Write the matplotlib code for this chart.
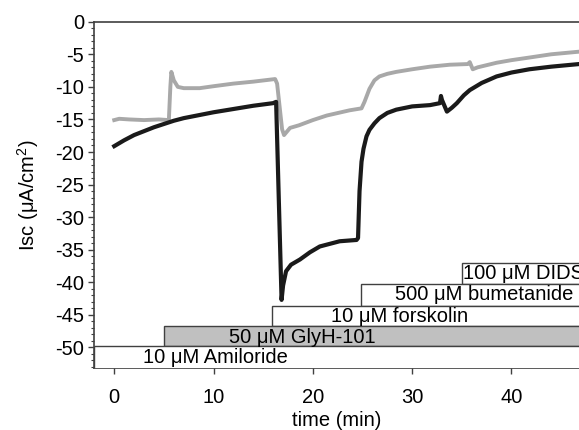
import numpy as np
import matplotlib.pyplot as plt
from matplotlib.patches import Rectangle

plt.rcParams['font.family'] = ['Liberation Sans', 'DejaVu Sans']
plt.rcParams['mathtext.default'] = 'regular'
plt.rcParams['axes.unicode_minus'] = False

# ---------------------------------------------------------------------------
# Data
# ---------------------------------------------------------------------------
t_black = [0, 1, 2, 3, 4, 5, 6, 7, 8, 10, 12, 14, 16, 16.3, 16.85, 17.0, 17.3,
           17.8, 18.7, 19.7, 20.7, 22.7, 24.4, 24.55, 24.7, 24.9, 25.1, 25.4,
           25.7, 26.2, 26.7, 27.5, 28.4, 30, 31.8, 32.8, 32.9, 33.0, 33.5, 34.0,
           34.5, 35.2, 35.8, 37, 38.5, 40, 41.8, 44, 46.8]
isc_black = [-19.1, -18.2, -17.4, -16.8, -16.2, -15.7, -15.2, -14.8, -14.5,
             -13.9, -13.4, -12.9, -12.5, -12.3, -42.7, -40.5, -38.3, -37.3,
             -36.5, -35.4, -34.5, -33.7, -33.5, -33.2, -26.0, -21.5, -19.5,
             -17.6, -16.6, -15.6, -14.8, -14.0, -13.5, -13.0, -12.8, -12.5,
             -11.4, -12.0, -13.8, -13.2, -12.5, -11.3, -10.5, -9.4, -8.4, -7.8,
             -7.3, -6.9, -6.5]

t_gray = [0, 0.5, 1.5, 3, 4.5, 5.5, 5.65, 5.75, 6.0, 6.4, 7, 8.6, 10, 12, 14,
          16.2, 16.4, 16.9, 17.1, 17.7, 18.6, 20, 21.4, 23.7, 24.9, 25.2, 25.7,
          26.2, 26.7, 27.5, 28.4, 30, 31.8, 33.8, 35.6, 35.8, 36.1, 36.6, 38.5,
          40, 41.8, 44, 46.8]
isc_gray = [-15.1, -14.9, -15.0, -15.1, -15.0, -15.1, -10.0, -7.7, -9.0, -10.0,
            -10.2, -10.2, -9.9, -9.5, -9.2, -8.8, -9.5, -16.5, -17.4, -16.3,
            -15.9, -15.1, -14.4, -13.6, -13.3, -12.3, -10.3, -9.0, -8.4, -8.0,
            -7.7, -7.3, -6.9, -6.6, -6.5, -6.2, -7.3, -7.0, -6.3, -5.9, -5.5,
            -5.0, -4.6]

# drug additions: label, start time, box bottom/top, text position, fill
drugs = ["10 \u03bcM Amiloride", "50 \u03bcM GlyH-101", "10 \u03bcM forskolin",
         "500 \u03bcM bumetanide", "100 \u03bcM DIDS"]
drug_start = [-2.0, 5.0, 15.9, 24.8, 35.0]
drug_bottom = [-54.0, -49.8, -46.7, -43.6, -40.3]
drug_top = [-49.8, -46.7, -43.6, -40.3, -37.1]
drug_text_x = [10.2, 18.9, 28.7, 37.3, 35.1]
drug_text_y = [-51.5, -48.5, -45.2, -41.9, -38.6]
drug_fill = ["white", "#c0c0c0", "white", "white", "white"]

# ---------------------------------------------------------------------------
# Plot
# ---------------------------------------------------------------------------
fig = plt.figure(figsize=(5.79, 4.30), dpi=100)
ax = fig.add_axes([0.163, 0.1435, 0.837, 0.806])

ax.plot(t_gray, isc_gray, color='#a8a8a8', lw=2.8, solid_joinstyle='round',
        zorder=3)
ax.plot(t_black, isc_black, color='#1a1a1a', lw=3.0, solid_joinstyle='round',
        zorder=4)

# drug boxes, drawn top-down so lower boxes overlap the ones above
n = len(drugs)
for i in range(n - 1, -1, -1):
    x0 = drug_start[i]
    rect = Rectangle((x0, drug_bottom[i]), 60 - x0, drug_top[i] - drug_bottom[i],
                     facecolor=drug_fill[i], edgecolor='#404040', lw=1.0,
                     zorder=5 + (n - i))
    ax.add_patch(rect)
    ha = 'left' if i == n - 1 else 'center'
    ax.text(drug_text_x[i], drug_text_y[i], drugs[i], ha=ha, va='center',
            fontsize=14.5, zorder=20)

ax.set_xlim(-2.0, 46.8)
ax.set_ylim(-53.2, 0)
ax.set_xticks([0, 10, 20, 30, 40])
ax.set_yticks(np.arange(-50, 1, 5))
ax.set_yticks(np.arange(-53, 0, 1), minor=True)
ax.tick_params(axis='both', which='major', direction='out', length=4,
               width=1, labelsize=14.5, color='#404040')
ax.tick_params(axis='x', pad=10)
ax.tick_params(axis='y', which='minor', direction='out', length=2.5, width=0.8,
               color='#404040')
for side in ['left', 'bottom', 'top']:
    ax.spines[side].set_color('#404040')
    ax.spines[side].set_linewidth(1.2)
ax.spines['right'].set_visible(False)

ax.set_xlabel('time (min)', fontsize=14.5, labelpad=3)
ax.set_ylabel('Isc (\u03bcA/cm$^{2}$)', fontsize=14.5, labelpad=10)

fig.savefig('out.png', dpi=100)
